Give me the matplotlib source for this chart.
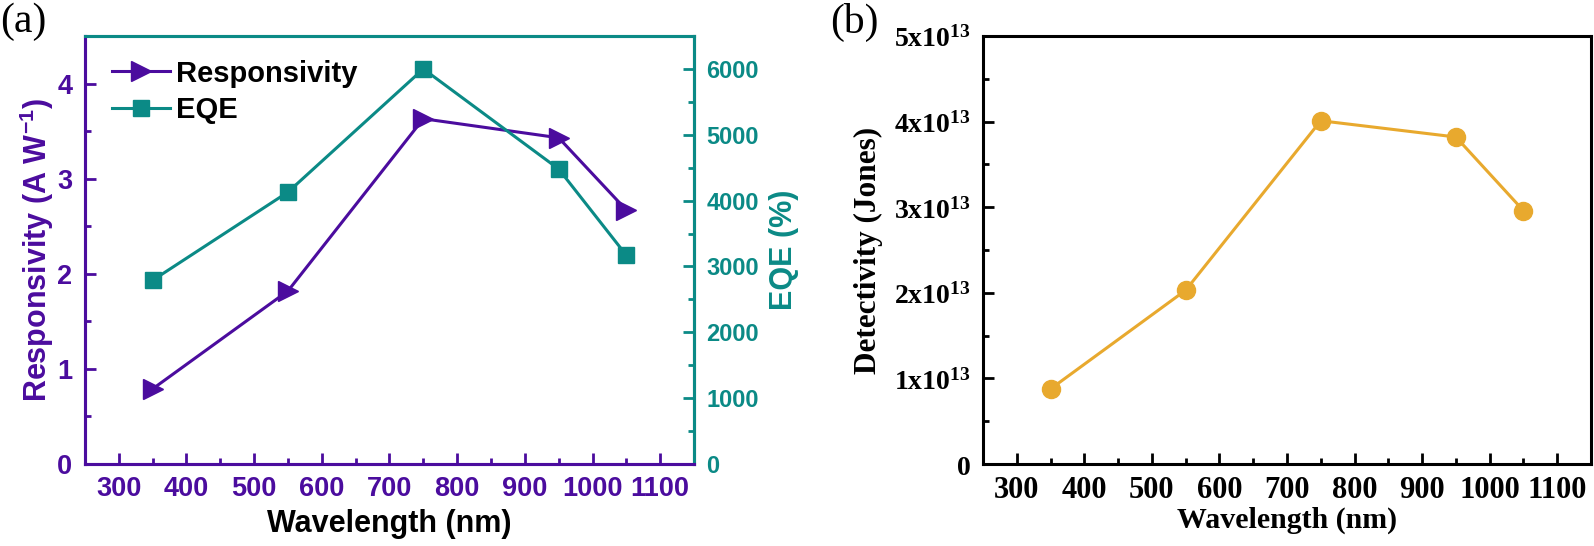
import matplotlib
matplotlib.use("Agg")
import matplotlib.pyplot as plt
from matplotlib.ticker import MultipleLocator, FuncFormatter

wavelength = [350, 550, 750, 950, 1050]
responsivity = [0.79, 1.82, 3.63, 3.43, 2.67]
eqe = [2790, 4130, 6000, 4480, 3170]
detectivity = [0.877e13, 2.03e13, 4.01e13, 3.82e13, 2.96e13]
x_ticks = [300, 400, 500, 600, 700, 800, 900, 1000, 1100]

PURPLE = "#4B0C9E"
TEAL = "#0B8A86"
ORANGE = "#E8A92E"

plt.rcParams["mathtext.fontset"] = "custom"
plt.rcParams["mathtext.bf"] = "Liberation Serif:bold"
plt.rcParams["mathtext.rm"] = "Liberation Serif:bold"
plt.rcParams["mathtext.sf"] = "Liberation Sans:bold"

fig = plt.figure(figsize=(15.94, 5.46), dpi=100)
axa = fig.add_axes([85/1594, 1-464/546, (694-85)/1594, (464-36)/546])
axb = fig.add_axes([983/1594, 1-464/546, (1591-983)/1594, (464-36)/546])

sans = "Liberation Sans"
serif = "Liberation Serif"

# Panel (a)
l1, = axa.plot(wavelength, responsivity, color=PURPLE, lw=2.2, marker=">", ms=15, label="Responsivity")
axa.set_xlim(250, 1150)
axa.set_ylim(0, 4.5)
axa.set_xticks(x_ticks)
axa.xaxis.set_minor_locator(MultipleLocator(50))
axa.yaxis.set_major_locator(MultipleLocator(1))
axa.yaxis.set_minor_locator(MultipleLocator(0.5))
axa.tick_params(which="both", direction="in", colors=PURPLE, width=2)
axa.tick_params(which="major", length=8, labelsize=19.5, pad=9)
axa.tick_params(which="minor", length=4)
for lab in axa.get_xticklabels() + axa.get_yticklabels():
    lab.set_fontfamily(sans); lab.set_fontweight("bold"); lab.set_color(PURPLE)
axa.spines["left"].set_color(PURPLE)
axa.spines["bottom"].set_color(PURPLE)
axa.spines["top"].set_color(TEAL)
for s in axa.spines.values():
    s.set_linewidth(2.2)
axa.set_xlabel("Wavelength (nm)", fontfamily=sans, fontweight="bold", fontsize=22, color="black")
axa.xaxis.set_label_coords(0.5, -0.105)
axa.set_ylabel("Responsivity (A W$^{\\mathsf{-1}}$)", fontfamily=sans, fontweight="bold", fontsize=22, color=PURPLE)
axa.yaxis.set_label_coords(-0.048, 0.5)

axr = axa.twinx()
l2, = axr.plot(wavelength, eqe, color=TEAL, lw=2.2, marker="s", ms=11, label="EQE")
axr.set_ylim(0, 6500)
axr.yaxis.set_major_locator(MultipleLocator(1000))
axr.yaxis.set_minor_locator(MultipleLocator(500))
axr.tick_params(which="both", direction="in", colors=TEAL, width=2)
axr.tick_params(which="major", length=8, labelsize=17, pad=9)
axr.tick_params(which="minor", length=4)
for lab in axr.get_yticklabels():
    lab.set_fontfamily(sans); lab.set_fontweight("bold"); lab.set_color(TEAL)
for s in axr.spines.values():
    s.set_linewidth(2.2)
axr.spines["right"].set_color(TEAL)
axr.spines["top"].set_color(TEAL)
axr.spines["left"].set_color(PURPLE)
axr.spines["bottom"].set_color(PURPLE)
axr.set_ylabel("EQE (%)", fontfamily=sans, fontweight="bold", fontsize=22, color=TEAL)
axr.yaxis.set_label_coords(1.123, 0.5)

leg = axa.legend(handles=[l1, l2], loc="upper left", bbox_to_anchor=(0.044, 0.945), frameon=False,
                 prop={"family": sans, "weight": "bold", "size": 21}, handlelength=2.0,
                 handletextpad=0.2, labelspacing=0.3, borderaxespad=0.0, borderpad=0.0)

fig.text(0.0, 1-22/546, "(a)", fontfamily=serif, fontsize=30, va="center", ha="left")

# Panel (b)
axb.plot(wavelength, detectivity, color=ORANGE, lw=2.2, marker="o", ms=13)
axb.set_xlim(250, 1150)
axb.set_ylim(0, 5e13)
axb.set_xticks(x_ticks)
axb.xaxis.set_minor_locator(MultipleLocator(50))
axb.yaxis.set_major_locator(MultipleLocator(1e13))
axb.yaxis.set_minor_locator(MultipleLocator(0.5e13))

def fmt(v, pos):
    n = int(round(v / 1e13))
    if n == 0:
        return "$\\mathbf{0}$"
    return "$\\mathbf{%dx10^{13}}$" % n

axb.yaxis.set_major_formatter(FuncFormatter(fmt))
axb.tick_params(which="both", direction="in", colors="black", width=2)
axb.tick_params(axis="y", which="major", length=8, labelsize=20, pad=9)
axb.tick_params(axis="x", which="major", length=8, labelsize=22, pad=9)
axb.tick_params(which="minor", length=4)
for lab in axb.get_xticklabels():
    lab.set_fontfamily(serif); lab.set_fontweight("bold")
for s in axb.spines.values():
    s.set_linewidth(2.2)
axb.set_xlabel("Wavelength (nm)", fontfamily=serif, fontweight="bold", fontsize=21.5)
axb.xaxis.set_label_coords(0.5, -0.1)
axb.set_ylabel("Detectivity (Jones)", fontfamily=serif, fontweight="bold", fontsize=22.5)
axb.yaxis.set_label_coords(-0.164, 0.5)

fig.text(830/1594, 1-22/546, "(b)", fontfamily=serif, fontsize=30, va="center", ha="left")

fig.savefig("out.png", dpi=100)
